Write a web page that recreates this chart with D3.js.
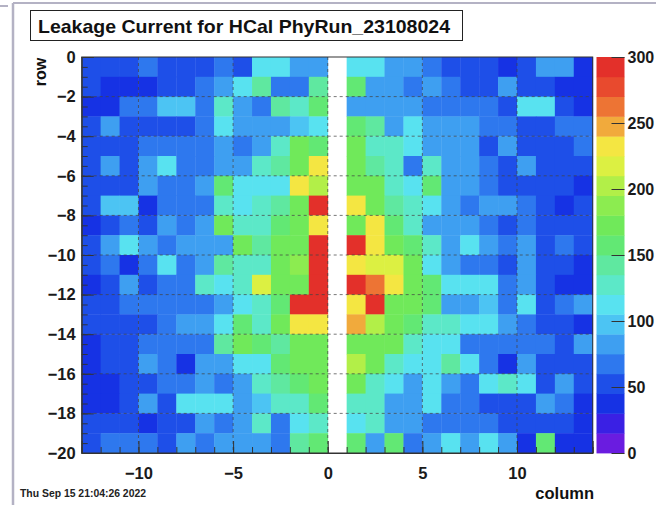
<!DOCTYPE html>
<html>
<head>
<meta charset="utf-8">
<script src="https://cdn.jsdelivr.net/npm/d3@7"></script>
<style>
  html, body { margin: 0; padding: 0; background: #ffffff; }
  svg { display: block; font-family: "Liberation Sans", Arial, Helvetica, sans-serif; }
</style>
</head>
<body>
<div id="chart"></div>
<script>
// ---------------- DATA ----------------
const title = "Leakage Current for HCal PhyRun_23108024";
const dateText = "Thu Sep 15 21:04:26 2022";
const xLabel = "column";
const yLabel = "row";
// column lower edges (-13 .. 13), each bin 1 unit wide
const columns = [-13,-12,-11,-10,-9,-8,-7,-6,-5,-4,-3,-2,-1,0,1,2,3,4,5,6,7,8,9,10,11,12,13];
// row upper edges (0 .. -19), each bin 1 unit tall
const rows = [0,-1,-2,-3,-4,-5,-6,-7,-8,-9,-10,-11,-12,-13,-14,-15,-16,-17,-18,-19];
const xTicks = [-10,-5,0,5,10];
const yTicks = [0,-2,-4,-6,-8,-10,-12,-14,-16,-18,-20];
const zTicks = [0,50,100,150,200,250,300];
const zMax = 300;
// leakage current per cell (row by row, columns -13..13); null = empty bin
const row0  = [45,45,45,70,50,50,50,65,45,115,110,85,85,null,110,105,85,85,70,50,50,55,35,50,75,75,40];
const row1  = [50,35,35,35,50,50,65,80,110,135,70,70,135,null,160,85,85,70,85,65,50,55,80,50,50,40,40];
const row2  = [35,35,70,70,90,90,70,120,85,65,135,120,160,null,85,85,85,85,70,70,70,65,45,110,110,55,40];
const row3  = [50,80,45,45,45,45,70,110,85,85,85,100,110,null,160,135,85,105,80,80,80,70,65,50,50,70,70];
const row4  = [50,50,50,70,70,70,70,80,65,85,125,165,160,null,165,120,120,105,85,85,80,45,75,50,50,55,70];
const row5  = [50,75,50,85,110,70,70,80,85,125,135,170,235,null,165,140,125,70,125,85,85,65,45,80,50,50,50];
const row6  = [50,50,50,80,70,70,85,160,110,115,115,225,205,null,165,175,125,110,160,85,85,65,50,50,50,50,40];
const row7  = [50,90,90,40,70,70,70,120,110,120,140,170,290,null,232,170,140,130,110,85,70,85,85,65,50,35,50];
const row8  = [35,55,70,45,80,65,85,165,125,130,160,170,230,null,165,230,160,120,85,85,85,65,45,65,50,50,55];
const row9  = [50,80,105,80,65,85,85,85,165,140,165,170,290,null,290,235,165,160,125,85,105,85,65,80,50,70,55];
const row10 = [50,70,40,70,110,70,85,145,125,130,165,185,290,null,235,215,210,165,110,85,70,70,50,80,55,55,40];
const row11 = [40,55,85,45,70,70,120,115,130,210,165,175,290,null,290,255,230,165,160,110,110,105,70,80,55,40,40];
const row12 = [45,55,70,70,70,70,70,85,110,120,160,290,290,null,235,285,170,165,160,85,85,100,65,105,55,65,80];
const row13 = [50,50,50,50,65,80,85,110,160,125,165,230,230,null,250,205,165,160,130,125,110,105,80,70,50,50,35];
const row14 = [40,50,50,70,70,70,70,140,165,160,145,170,175,null,175,165,175,125,110,115,70,70,70,65,70,55,80];
const row15 = [40,50,50,85,65,40,80,85,110,110,160,165,170,null,200,165,130,110,110,135,105,65,40,80,50,50,55];
const row16 = [35,35,50,45,65,70,85,65,85,120,140,160,165,null,165,125,110,85,105,80,70,105,125,105,55,75,55];
const row17 = [35,35,50,85,45,105,105,105,85,90,120,120,160,null,125,120,85,85,105,65,65,45,45,50,75,70,40];
const row18 = [55,55,55,40,55,55,85,70,85,130,70,110,120,null,110,120,85,85,70,70,70,70,50,55,55,55,40];
const row19 = [55,70,70,70,50,85,70,80,85,85,70,145,155,null,160,80,155,65,80,105,80,105,85,35,160,35,40];
const values = [row0,row1,row2,row3,row4,row5,row6,row7,row8,row9,row10,row11,row12,row13,row14,row15,row16,row17,row18,row19];

// 20 contour bands of the ROOT-like rainbow palette (0..300, 15 per band)
const palette = ["#6a1ce0","#3a20e4","#1632e4","#1e4fe8","#2e78ee","#3e9ff1","#4cc4f3","#58e2f0",
                 "#5ce8c8","#5fe8a0","#62e874","#70e95a","#8cec50","#b2ef48","#dcf042","#f4e642",
                 "#f1aa3c","#ed7434","#e84a2e","#e3302a"];

// ---------------- LAYOUT ----------------
const W = 656, H = 505;
const plot = { left: 81.7, right: 592.7, top: 57, bottom: 453 };
const cbar = { left: 596.5, right: 624.5 };

const svg = d3.select("#chart").append("svg").attr("width", W).attr("height", H);

// window frame lines (from screenshot)
svg.append("line").attr("x1", 13).attr("x2", 13).attr("y1", 3).attr("y2", H)
   .attr("stroke", "#b4b2c4").attr("stroke-width", 2.5);
svg.append("line").attr("x1", 13).attr("x2", W).attr("y1", 3).attr("y2", 3)
   .attr("stroke", "#b4b2c4").attr("stroke-width", 2);
svg.append("line").attr("x1", 0).attr("x2", 8).attr("y1", 6).attr("y2", 6)
   .attr("stroke", "#b4b2c4").attr("stroke-width", 2);

const x = d3.scaleLinear().domain([-13, 14]).range([plot.left, plot.right]);
const y = d3.scaleLinear().domain([-20, 0]).range([plot.bottom, plot.top]);
const z = d3.scaleLinear().domain([0, zMax]).range([plot.bottom, plot.top]);
const colorOf = d3.scaleQuantize().domain([0, zMax]).range(palette);

// cells
const cells = [];
rows.forEach((r, i) => columns.forEach((c, j) => {
  const v = values[i][j];
  if (v !== null && v !== undefined) cells.push({ c, r, v });
}));
svg.append("g").selectAll("rect").data(cells).join("rect")
  .attr("x", d => x(d.c))
  .attr("y", d => y(d.r))
  .attr("width", d => x(d.c + 1) - x(d.c) + 0.4)
  .attr("height", d => y(d.r - 1) - y(d.r) + 0.4)
  .attr("fill", d => colorOf(d.v));

// grid
const grid = svg.append("g").attr("stroke", "#444").attr("stroke-width", 0.9)
  .attr("stroke-dasharray", "3,3").attr("opacity", 0.8);
xTicks.forEach(t => grid.append("line").attr("x1", x(t)).attr("x2", x(t))
  .attr("y1", plot.top).attr("y2", plot.bottom));
yTicks.filter(t => t !== 0 && t !== -20).forEach(t => grid.append("line")
  .attr("x1", plot.left).attr("x2", plot.right).attr("y1", y(t)).attr("y2", y(t)));

// frame
svg.append("rect").attr("x", plot.left).attr("y", plot.top)
  .attr("width", plot.right - plot.left).attr("height", plot.bottom - plot.top)
  .attr("fill", "none").attr("stroke", "#333").attr("stroke-width", 1);

// axes with inner ticks
const fmt = d => (d < 0 ? "\u2212" + Math.abs(d) : String(d));
const xAxis = d3.axisBottom(x).tickValues(xTicks).tickSize(-12).tickPadding(14).tickFormat(fmt);
const gx = svg.append("g").attr("transform", `translate(0,${plot.bottom})`).call(xAxis);
const xMinor = d3.axisBottom(x).tickValues(d3.range(-13, 15, 1)).tickSize(-6).tickFormat("");
svg.append("g").attr("transform", `translate(0,${plot.bottom})`).call(xMinor)
  .call(g => g.select(".domain").remove());

const yAxis = d3.axisLeft(y).tickValues(yTicks).tickSize(-12).tickPadding(6).tickFormat(fmt);
const gy = svg.append("g").attr("transform", `translate(${plot.left},0)`).call(yAxis);
const yMinor = d3.axisLeft(y).tickValues(d3.range(-20, 0.01, 0.5)).tickSize(-6).tickFormat("");
svg.append("g").attr("transform", `translate(${plot.left},0)`).call(yMinor)
  .call(g => g.select(".domain").remove());

[gx, gy].forEach(g => {
  g.select(".domain").attr("stroke", "#333");
  g.selectAll("text").attr("font-size", 16.5).attr("font-weight", "bold").attr("fill", "#1a1a1a");
});
svg.selectAll(".tick line").attr("stroke", "#333");

// colour bar
const bands = palette.map((col, i) => ({ lo: i * zMax / palette.length, hi: (i + 1) * zMax / palette.length, col }));
svg.append("g").selectAll("rect").data(bands).join("rect")
  .attr("x", cbar.left).attr("width", cbar.right - cbar.left)
  .attr("y", d => z(d.hi)).attr("height", d => z(d.lo) - z(d.hi) + 0.4)
  .attr("fill", d => d.col);
const zAxis = d3.axisRight(z).tickValues(zTicks).tickSize(-13).tickPadding(3).tickFormat(d3.format("d"));
const gz = svg.append("g").attr("transform", `translate(${cbar.right},0)`).call(zAxis);
gz.select(".domain").remove();
gz.selectAll(".tick line").attr("stroke", "#333");
gz.selectAll("text").attr("font-size", 16).attr("font-weight", "bold").attr("fill", "#1a1a1a");

// title box
svg.append("rect").attr("x", 30.5).attr("y", 10.5).attr("width", 432).attr("height", 30)
  .attr("fill", "#fff").attr("stroke", "#222").attr("stroke-width", 1);
svg.append("text").attr("x", 38).attr("y", 32.5).attr("text-anchor", "start")
  .attr("font-size", 19).attr("font-weight", "bold").attr("fill", "#111")
  .attr("textLength", 412).attr("lengthAdjust", "spacingAndGlyphs").text(title);

// axis titles
svg.append("text").attr("transform", "translate(46,72) rotate(-90)").attr("text-anchor", "middle")
  .attr("font-size", 16).attr("font-weight", "bold").attr("fill", "#111").text(yLabel);
svg.append("text").attr("x", 594).attr("y", 499).attr("text-anchor", "end")
  .attr("font-size", 16.5).attr("font-weight", "bold").attr("fill", "#111").text(xLabel);

// date stamp
svg.append("text").attr("x", 20).attr("y", 497)
  .attr("font-size", 10).attr("font-weight", "bold").attr("fill", "#222")
  .attr("textLength", 126).attr("lengthAdjust", "spacingAndGlyphs").text(dateText);
</script>
</body>
</html>
